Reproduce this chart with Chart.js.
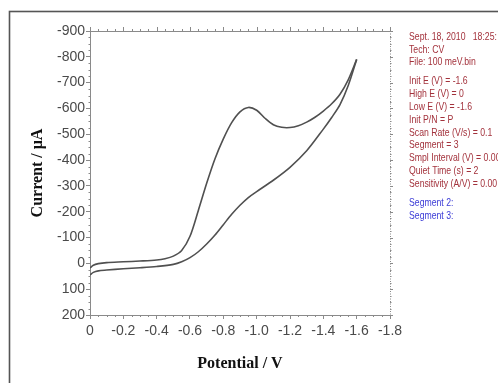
<!DOCTYPE html>
<html>
<head>
<meta charset="utf-8">
<script src="https://cdn.jsdelivr.net/npm/chart.js@4.4.1/dist/chart.umd.min.js"></script>
<style>
  html, body { margin: 0; padding: 0; background: #ffffff; }
  #wrap { position: relative; width: 498px; height: 383px; }
</style>
</head>
<body>
<div id="wrap"><canvas id="cvChart" width="498" height="383"></canvas></div>
<script>
// ---------- Data ----------

// forward scan, 0 -> -1.6 V (branch with the peak)
const scanOutE = [0, -0.02, -0.05, -0.1, -0.2, -0.3, -0.4, -0.45, -0.5, -0.55, -0.6, -0.65, -0.7, -0.75, -0.8, -0.85, -0.9, -0.95, -1.0, -1.05, -1.1, -1.15, -1.2, -1.25, -1.3, -1.35, -1.4, -1.45, -1.5, -1.55, -1.6];
const scanOutI = [18, 7, 1, -3, -6, -9, -13, -18, -28, -50, -105, -205, -310, -405, -482, -545, -587, -604, -593, -562, -537, -527, -526, -533, -547, -566, -590, -618, -655, -712, -790];

// return scan, -1.6 -> 0 V
const scanBackE = [-1.6, -1.55, -1.5, -1.45, -1.4, -1.3, -1.2, -1.1, -1.0, -0.95, -0.9, -0.85, -0.8, -0.75, -0.7, -0.65, -0.6, -0.55, -0.5, -0.4, -0.3, -0.2, -0.1, -0.05, -0.02, 0];
const scanBackI = [-790, -690, -615, -565, -520, -436, -372, -322, -278, -255, -225, -190, -150, -110, -75, -45, -22, -6, 4, 12, 17, 21, 26, 29, 35, 45];

// instrument info block
const infoLines = [
    "Sept. 18, 2010   18:25:",
    "Tech: CV",
    "File: 100 meV.bin",
    "",
    "Init E (V) = -1.6",
    "High E (V) = 0",
    "Low E (V) = -1.6",
    "Init P/N = P",
    "Scan Rate (V/s) = 0.1",
    "Segment = 3",
    "Smpl Interval (V) = 0.00",
    "Quiet Time (s) = 2",
    "Sensitivity (A/V) = 0.00"
];
const segmentLines = ["Segment 2:", "Segment 3:"];

const xMin = -1.8, xMax = 0, xStep = 0.2;
const yMin = -900, yMax = 200, yStep = 100;


// ---------- Helpers ----------

function toPoints(xs, ys){
    return xs.map((x, i) => ({x: x, y: ys[i]}));
}

const sans = "'Liberation Sans', Arial, sans-serif";
const serif = "'Liberation Serif', 'Times New Roman', serif";


// ---------- Frame / minor ticks / info text ----------

const decorPlugin = {

    id: "decor",

    beforeDraw(chart){
        const ctx = chart.ctx;
        ctx.save();
        ctx.fillStyle = "#ffffff";
        ctx.fillRect(0, 0, chart.width, chart.height);
        // outer frame, runs off the canvas on right and bottom
        ctx.strokeStyle = "#555555";
        ctx.lineWidth = 1.6;
        ctx.strokeRect(9.5, 11.5, 600, 500);
        ctx.restore();
    },

    afterDraw(chart){
        const ctx = chart.ctx;
        const xs = chart.scales.x;
        const ys = chart.scales.y;
        const a = chart.chartArea;

        ctx.save();
        ctx.strokeStyle = "#8a8a8a";
        ctx.lineWidth = 1;

        // top edge (solid) and right edge (dotted)
        ctx.beginPath();
        ctx.moveTo(a.left, a.top + 0.5);
        ctx.lineTo(a.right, a.top + 0.5);
        ctx.stroke();

        ctx.setLineDash([1, 1.5]);
        ctx.beginPath();
        ctx.moveTo(a.right + 0.5, a.top);
        ctx.lineTo(a.right + 0.5, a.bottom);
        ctx.stroke();
        ctx.setLineDash([]);

        // minor ticks along x (bottom and top)
        const nx = Math.round((xMax - xMin) / 0.05);
        for(let i = 0; i <= nx; i++){
            const v = xMax - i * 0.05;
            const px = Math.round(xs.getPixelForValue(v)) + 0.5;
            const major = i % 4 === 0;
            ctx.beginPath();
            if(!major){
                ctx.moveTo(px, a.bottom);
                ctx.lineTo(px, a.bottom + 2);
            }
            ctx.moveTo(px, a.top);
            ctx.lineTo(px, a.top - (major ? 4 : 2));
            ctx.stroke();
        }

        // ticks along y on the right edge
        const ny = Math.round((yMax - yMin) / 25);
        for(let i = 0; i <= ny; i++){
            const v = yMin + i * 25;
            const py = Math.round(ys.getPixelForValue(v)) + 0.5;
            const major = i % 4 === 0;
            ctx.beginPath();
            ctx.moveTo(a.right, py);
            ctx.lineTo(a.right + (major ? 3 : 1.5), py);
            if(!major){
                ctx.moveTo(a.left, py);
                ctx.lineTo(a.left - 1.5, py);
            }
            ctx.stroke();
        }

        // info block (condensed look of the original)
        const sx = 0.79;
        ctx.font = "11px " + sans;
        ctx.textBaseline = "middle";
        ctx.textAlign = "left";
        ctx.translate(409, 0);
        ctx.scale(sx, 1);
        ctx.fillStyle = "#a3323c";
        let y = 36.7;
        infoLines.forEach(line => {
            if(line === ""){
                y += 6.3;
                return;
            }
            ctx.fillText(line, 0, y);
            y += 12.8;
        });
        y += 6;
        ctx.fillStyle = "#3b3bd6";
        segmentLines.forEach(line => {
            ctx.fillText(line, 0, y);
            y += 13.3;
        });

        ctx.restore();
    }

};


// ---------- Chart ----------

const canvas = document.getElementById("cvChart");

new Chart(canvas, {

    type: "scatter",

    data: {
        datasets: [
            {
                label: "scan out",
                data: toPoints(scanOutE, scanOutI),
                showLine: true,
                borderColor: "#505050",
                borderWidth: 1.6,
                pointRadius: 0,
                tension: 0.3,
                fill: false
            },
            {
                label: "scan back",
                data: toPoints(scanBackE, scanBackI),
                showLine: true,
                borderColor: "#505050",
                borderWidth: 1.6,
                pointRadius: 0,
                tension: 0.3,
                fill: false
            }
        ]
    },

    options: {

        responsive: false,
        animation: false,
        devicePixelRatio: 1,

        layout: {
            padding: {left: 0, top: 31, right: 108, bottom: 0}
        },

        plugins: {
            legend: {display: false},
            tooltip: {enabled: false}
        },

        scales: {

            x: {
                type: "linear",
                min: xMin,
                max: xMax,
                reverse: true,
                afterFit(scale){ scale.height = 68; },
                ticks: {
                    stepSize: xStep,
                    padding: 4,
                    color: "#4a4a4a",
                    font: {family: sans, size: 14},
                    maxRotation: 0,
                    autoSkip: false,
                    callback: v => Math.abs(v) < 1e-9 ? "0" : Number(v).toFixed(1)
                },
                grid: {
                    drawOnChartArea: false,
                    drawTicks: true,
                    tickLength: 4,
                    color: "#8a8a8a"
                },
                border: {display: true, color: "#8a8a8a", width: 1},
                title: {
                    display: true,
                    text: "Potential / V",
                    color: "#111111",
                    font: {family: serif, size: 16, weight: "bold"},
                    padding: {top: 0, bottom: 10}
                }
            },

            y: {
                type: "linear",
                min: yMin,
                max: yMax,
                reverse: true,
                afterFit(scale){ scale.width = 90; },
                ticks: {
                    stepSize: yStep,
                    padding: 1,
                    color: "#4a4a4a",
                    font: {family: sans, size: 14},
                    callback: v => String(v)
                },
                grid: {
                    drawOnChartArea: false,
                    drawTicks: true,
                    tickLength: 4,
                    color: "#8a8a8a"
                },
                border: {display: true, color: "#8a8a8a", width: 1, dash: [1, 1.5]},
                title: {
                    display: true,
                    text: "Current / μA",
                    color: "#111111",
                    font: {family: serif, size: 16, weight: "bold"},
                    padding: {top: 28, bottom: 0}
                }
            }

        }

    },

    plugins: [decorPlugin]

});
</script>
</body>
</html>
